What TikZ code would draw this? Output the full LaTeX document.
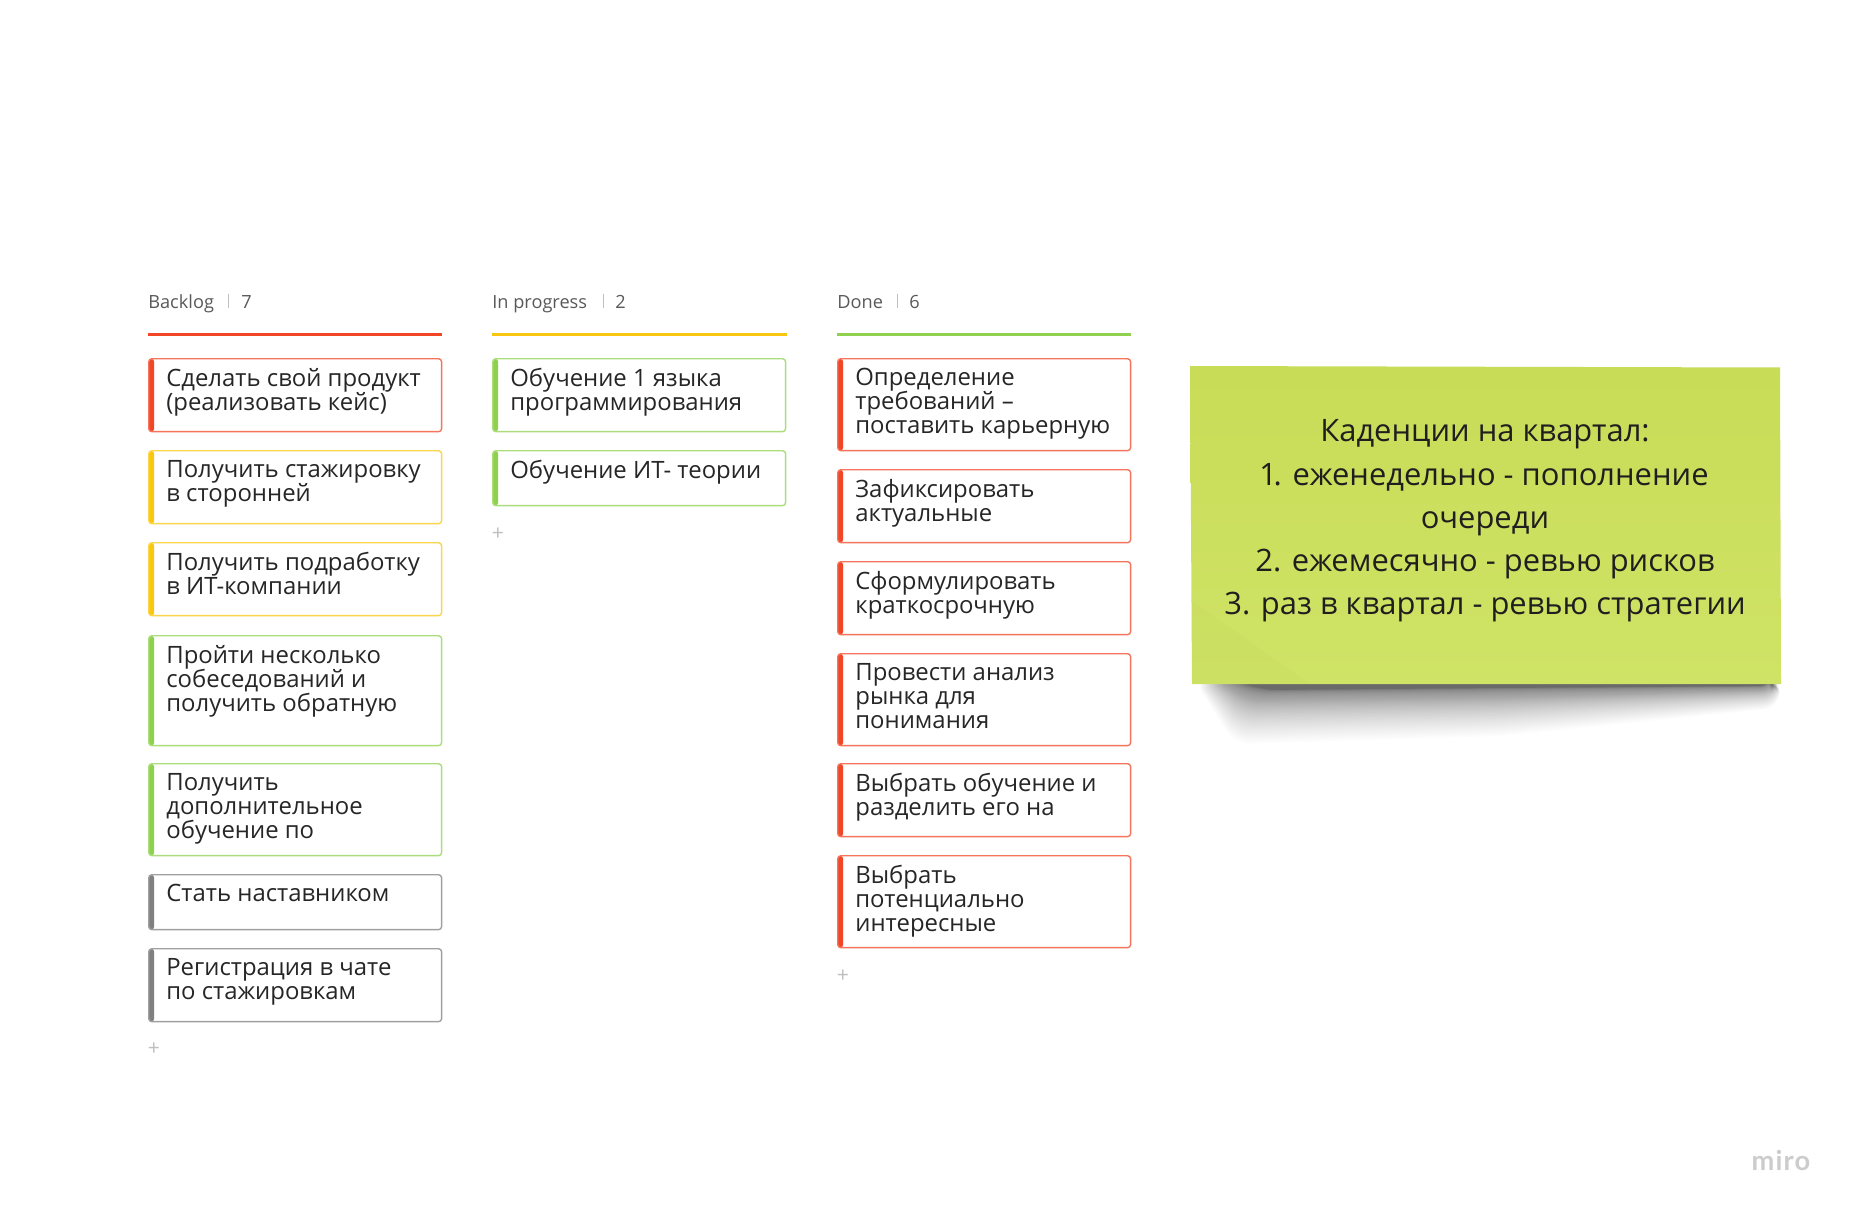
\documentclass[tikz,border=0pt]{standalone}
\usepackage{fontspec}
\setmainfont{Open Sans}
\newfontfamily\notefont[Numbers=Proportional]{Open Sans}
\newfontfamily\logofont{Lato}
\usetikzlibrary{positioning}
\definecolor{cardred}{HTML}{F24726}
\definecolor{cardyellow}{HTML}{FAC710}
\definecolor{cardgreen}{HTML}{8FD14F}
\definecolor{cardgrey}{HTML}{808080}
\definecolor{notetop}{HTML}{C9DC57}
\definecolor{notebottom}{HTML}{CFE366}
\tikzset{
  card/.style={draw=#1!75, line width=0.8pt, rounded corners=1.8pt, fill=white, anchor=north west, minimum width=5.86cm, inner sep=0pt,
    path picture={\fill[#1] (path picture bounding box.north west) rectangle ([xshift=0.11cm]path picture bounding box.south west);}},
  cardtext/.style={anchor=north west, xshift=0.36cm, yshift=-0.2cm, inner sep=0pt, align=left, text=black!85, font=\fontsize{13.6}{13.75}\selectfont},
  coltitle/.style={anchor=base west, inner sep=0pt, text=black!65, font=\fontsize{10.35}{12}\selectfont},
  colrule/.style={line width=1.2pt},
  coldiv/.style={black!25, line width=0.4pt},
  addmark/.style={inner sep=0pt, text=black!25, font=\fontsize{12}{12}\selectfont},
  notetext/.style={align=center, inner sep=0pt, text=black!88, font=\notefont\fontsize{17.6}{24.6}\selectfont}
}
\begin{document}
\begin{tikzpicture}[x=0.02cm,y=-0.02cm]
  \useasboundingbox[fill=white] (0,0) rectangle (1853,1213);
  % column heads
  \node[coltitle] (backlog) at (148,308.5) {Backlog};
  \node[coltitle] (backlogn) at (241,308.5) {7};
  \node[coltitle] (progress) at (492,308.5) {In progress};
  \node[coltitle] (progressn) at (615,308.5) {2};
  \node[coltitle] (done) at (837,308.5) {Done};
  \node[coltitle] (donen) at (909,308.5) {6};
  \foreach \x in {228,603,897} {\draw[coldiv] (\x,294) -- (\x,308);}
  \draw[colrule, cardred] (148,334.5) -- (442,334.5);
  \draw[colrule, cardyellow] (492,334.5) -- (787,334.5);
  \draw[colrule, cardgreen] (837,334.5) -- (1131,334.5);
  % backlog
  \node[card=cardred, minimum height=1.46cm] (b1) at (148,358) {};
  \node[cardtext] (b1t) at (b1.north west) {Сделать свой продукт\\(реализовать кейс)};
  \node[card=cardyellow, minimum height=1.46cm] (b2) at (148,450) {};
  \node[cardtext] (b2t) at (b2.north west) {Получить стажировку\\в сторонней};
  \node[card=cardyellow, minimum height=1.46cm] (b3) at (148,542) {};
  \node[cardtext] (b3t) at (b3.north west) {Получить подработку\\в ИТ-компании};
  \node[card=cardgreen, minimum height=2.2cm] (b4) at (148,635) {};
  \node[cardtext] (b4t) at (b4.north west) {Пройти несколько\\собеседований и\\получить обратную};
  \node[card=cardgreen, minimum height=1.84cm] (b5) at (148,763) {};
  \node[cardtext] (b5t) at (b5.north west) {Получить\\дополнительное\\обучение по};
  \node[card=cardgrey, minimum height=1.1cm] (b6) at (148,874) {};
  \node[cardtext] (b6t) at (b6.north west) {Стать наставником};
  \node[card=cardgrey, minimum height=1.46cm] (b7) at (148,948) {};
  \node[cardtext] (b7t) at (b7.north west) {Регистрация в чате\\по стажировкам};
  \node[addmark] (badd) at (154,1049) {+};
  % in progress
  \node[card=cardgreen, minimum height=1.46cm] (p1) at (492,358) {};
  \node[cardtext] (p1t) at (p1.north west) {Обучение 1 языка\\программирования};
  \node[card=cardgreen, minimum height=1.1cm] (p2) at (492,450) {};
  \node[cardtext] (p2t) at (p2.north west) {Обучение ИТ- теории};
  \node[addmark] (padd) at (498,534) {+};
  % done
  \node[card=cardred, minimum height=1.84cm] (d1) at (837,358) {};
  \node[cardtext] (d1t) at (d1.north west) {Определение\\требований --\\поставить карьерную};
  \node[card=cardred, minimum height=1.46cm] (d2) at (837,469) {};
  \node[cardtext] (d2t) at (d2.north west) {Зафиксировать\\актуальные};
  \node[card=cardred, minimum height=1.46cm] (d3) at (837,561) {};
  \node[cardtext] (d3t) at (d3.north west) {Сформулировать\\краткосрочную};
  \node[card=cardred, minimum height=1.84cm] (d4) at (837,653) {};
  \node[cardtext] (d4t) at (d4.north west) {Провести анализ\\рынка для\\понимания};
  \node[card=cardred, minimum height=1.46cm] (d5) at (837,763) {};
  \node[cardtext] (d5t) at (d5.north west) {Выбрать обучение и\\разделить его на};
  \node[card=cardred, minimum height=1.84cm] (d6) at (837,855) {};
  \node[cardtext] (d6t) at (d6.north west) {Выбрать\\потенциально\\интересные};
  \node[addmark] (dadd) at (843,976) {+};
  % sticky note
  \foreach \d in {0,...,59} {
    \pgfmathsetmacro\h{(1-\d/59)^2.4}
    \fill[black, opacity=0.0125, rounded corners=8pt] (1194+\d*0.7,680) -- (1781-\d*0.12,680) -- (1778-\d*0.1,686+\h*22) -- (1500,688+\h*48) -- (1235+\d*0.5,690+\h*54) -- cycle;
  }
  \shade[top color=notetop, bottom color=notebottom] (1190,366) -- (1780,367.5) -- (1781,684) -- (1192,684) -- cycle;
  \fill[black, opacity=0.012] (1191,600) -- (1310,684) -- (1192,684) -- cycle;
  \node[notetext] (notetxt) at (1485,521) {Каденции на квартал:\\1. еженедельно - пополнение\\очереди\\2. ежемесячно - ревью рисков\\3. раз в квартал - ревью стратегии};
  \node[inner sep=0pt, text=black!20, font=\logofont\bfseries\fontsize{15.5}{16}\selectfont] (logo) at (1781,1160) {m\kern0.6pt i\kern0.6pt r\kern0.6pt o};
\end{tikzpicture}
\end{document}
